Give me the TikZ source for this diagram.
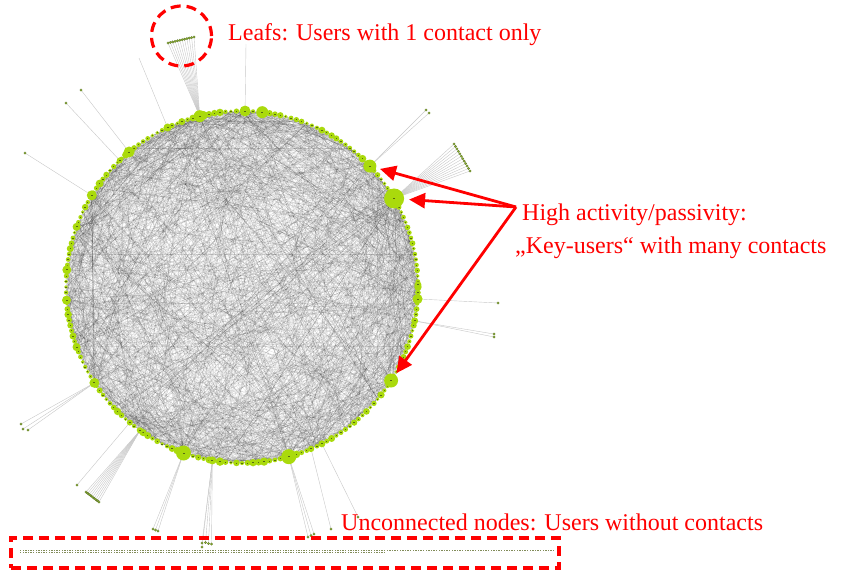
\documentclass[tikz,border=0pt]{standalone}
\usepackage{fontspec}
\setmainfont{Liberation Serif}
\usetikzlibrary{arrows.meta}
\pgfdeclarelayer{edgelayer}
\pgfsetlayers{edgelayer,main}
\definecolor{nodegreen}{RGB}{170,218,12}
\definecolor{nodecore}{RGB}{85,105,20}
\definecolor{leafgreen}{RGB}{135,175,45}
\definecolor{leafdark}{RGB}{85,105,35}
\definecolor{unconn}{RGB}{130,140,90}
\definecolor{alertred}{RGB}{255,0,0}
\tikzset{
  chord/.style={draw=black, opacity=0.13, line width=0.3pt},
  darkchord/.style={draw=black, opacity=0.4, line width=0.4pt},
  leafline/.style={draw=black!22, line width=0.4pt},
  ringnode/.style={circle, fill=nodegreen, inner sep=0pt, outer sep=0pt},
  leafdot/.style={circle, fill=leafgreen, draw=leafdark, line width=0.2pt, inner sep=0pt, outer sep=0pt, minimum size=2.5pt},
  notetext/.style={text=alertred, font=\fontsize{24}{28}\selectfont, anchor=base west, inner sep=0pt},
  callout/.style={draw=alertred, line width=2.8pt, -{Triangle[length=16pt,width=15pt]}},
  dashring/.style={draw=alertred, line width=3.2pt, dash pattern=on 10pt off 6pt},
}
\begin{document}
\begin{tikzpicture}[x=1pt,y=-1pt]
\useasboundingbox (0,0) rectangle (845,570);
\pgfmathsetseed{4242}
% ring of users
\foreach \i in {1,...,200}{
  \pgfmathsetmacro\px{242+176*cos(\i*1.8)}
  \pgfmathsetmacro\py{287-176*sin(\i*1.8)}
  \pgfmathsetmacro\rr{1.9+2.6*rnd*rnd}
  \node[ringnode, minimum size={2*\rr*1pt}] (n\i) at (\px,\py) {};
  \fill[nodecore] (\px-0.7,\py-0.3) rectangle (\px+0.7,\py+0.3);
}
% prominent users (hubs)
\foreach \nm/\ang/\rad in {hA/103.9/6, hB/89/5.5, hC/83.4/6, hD/43.4/6.5, hE/30.2/10,
  hF/-3.9/5, hG/-11.1/3.5, hH/-32.1/7, hI/-63/3.5, hJ/-66.9/3.2, hK/-74.6/7.5,
  hL/-99.7/4, hM/-109.4/7.5, hN/-125.4/3.2, hO/-129.6/3, hP/-147/5, hQ/148.6/5,
  hR/129.9/5.5, hS/134/3, hT/115/4, hU/110/3.5, hV/174.4/4.5, hW/184.3/4.5, hX/0.7/3.5,
  hY/160/4, hZ/-160/4}{
  \pgfmathsetmacro\px{242+176*cos(\ang)}
  \pgfmathsetmacro\py{287-176*sin(\ang)}
  \node[ringnode, minimum size={2*\rad*1pt}] (\nm) at (\px,\py) {};
  \fill[nodecore] (\px-1,\py-0.4) rectangle (\px+1,\py+0.4);
}
% leaves
\foreach \k in {0,...,11}{
  \node[leafdot] (la\k) at ({168+\k*26/11},{43-\k*6/11}) {};
}
\coordinate (lb) at (246,44);
\coordinate (lc) at (139,58);
\node[leafdot] (ld) at (81,90) {};
\node[leafdot] (le) at (66,103) {};
\node[leafdot] (lf) at (25,153) {};
\node[leafdot] (lg1) at (426,110) {};
\node[leafdot] (lg2) at (429,113) {};
\foreach \k in {0,...,11}{
  \node[leafdot] (lh\k) at ({454+\k*16/11},{144+\k*27/11}) {};
}
\node[leafdot] (li) at (498,303) {};
\node[leafdot] (lj1) at (494,334) {};
\node[leafdot] (lj2) at (494,337) {};
\node[leafdot] (lk1) at (21,424) {};
\node[leafdot] (lk2) at (23,429) {};
\node[leafdot] (lk3) at (28,430) {};
\node[leafdot] (ll) at (77,485) {};
\foreach \k in {0,...,8}{
  \node[leafdot] (lm\k) at ({86+\k*13/8},{492+\k*10/8}) {};
}
\node[leafdot] (ln1) at (153,529) {};
\node[leafdot] (ln2) at (155.5,530) {};
\node[leafdot] (ln3) at (158,531) {};
\node[leafdot] (lo1) at (202,543) {};
\node[leafdot] (lo2) at (205.5,542.5) {};
\node[leafdot] (lo3) at (208.5,543.5) {};
\node[leafdot] (lo4) at (211.5,544) {};
\node[leafdot] (lo5) at (202,547) {};
\node[leafdot] (lp1) at (308,537) {};
\node[leafdot] (lp2) at (311,535.5) {};
\node[leafdot] (lp3) at (314,534) {};
\node[leafdot] (lq) at (331,529) {};
\node[leafdot] (lr) at (358,517) {};
% unconnected users
\foreach \k in {0,...,205}{
  \fill[unconn] ({20+\k*2.6},549.8) rectangle ++(1.3,1.2);
}
\foreach \k in {0,...,140}{
  \fill[unconn] ({20+\k*2.6},552.2) rectangle ++(1.3,1.2);
}
% connections
\begin{pgfonlayer}{edgelayer}
  \foreach \k in {1,...,1250}{
    \pgfmathtruncatemacro\a{random(1,200)}
    \pgfmathtruncatemacro\b{random(1,200)}
    \ifnum\a=\b\else\draw[chord] (n\a) -- (n\b);\fi
  }
  \foreach \nm/\cnt in {hA/25, hB/22, hC/25, hD/35, hE/70, hF/20, hG/12, hH/40, hI/12,
    hJ/10, hK/40, hL/15, hM/40, hN/10, hO/10, hP/22, hQ/22, hR/25, hS/10, hT/15,
    hU/12, hV/18, hW/18, hX/12, hY/14, hZ/14}{
    \foreach \k in {1,...,\cnt}{
      \pgfmathtruncatemacro\b{random(1,200)}
      \draw[chord] (\nm) -- (n\b);
    }
  }
  \draw[darkchord] (hP) -- (hQ);
  \foreach \k in {0,...,11}{ \draw[leafline] (hA) -- (la\k); }
  \draw[leafline] (hB) -- (lb);
  \draw[leafline] (hT) -- (lc);
  \draw[leafline] (hR) -- (ld);
  \draw[leafline] (hS) -- (le);
  \draw[leafline] (hQ) -- (lf);
  \draw[leafline] (hD) -- (lg1);
  \draw[leafline] (hD) -- (lg2);
  \foreach \k in {0,...,11}{ \draw[leafline] (hE) -- (lh\k); }
  \draw[leafline] (hF) -- (li);
  \draw[leafline] (hG) -- (lj1);
  \draw[leafline] (hG) -- (lj2);
  \draw[leafline] (hP) -- (lk1);
  \draw[leafline] (hP) -- (lk2);
  \draw[leafline] (hP) -- (lk3);
  \draw[leafline] (hO) -- (ll);
  \foreach \k in {0,...,8}{ \draw[leafline] (hN) -- (lm\k); }
  \draw[leafline] (hM) -- (ln1);
  \draw[leafline] (hM) -- (ln2);
  \draw[leafline] (hM) -- (ln3);
  \foreach \k in {1,...,5}{ \draw[leafline] (hL) -- (lo\k); }
  \draw[leafline] (hK) -- (lp1);
  \draw[leafline] (hK) -- (lp2);
  \draw[leafline] (hK) -- (lp3);
  \draw[leafline] (hJ) -- (lq);
  \draw[leafline] (hI) -- (lr);
\end{pgfonlayer}
% annotations
\node[dashring, circle, minimum size=60pt, inner sep=0pt] (leafring) at (181.5,36) {};
\node[dashring, rectangle, minimum width=548pt, minimum height=30pt, inner sep=0pt] (unconnbox) at (285,553) {};
\node[notetext] (leaftxt) at (228,40) {Leafs: Users with 1 contact only};
\node[notetext] (hightxt) at (522,220) {High activity/passivity:};
\node[notetext] (keytxt) at (515,253) {„Key-users“ with many contacts};
\node[notetext] (unconntxt) at (341,530) {Unconnected nodes: Users without contacts};
\coordinate (src) at (516,207);
\draw[callout, shorten >=4pt] (src) -- (hD);
\draw[callout, shorten >=5pt] (src) -- (hE);
\draw[callout, shorten >=2pt] (src) -- (hH);
\end{tikzpicture}
\end{document}
